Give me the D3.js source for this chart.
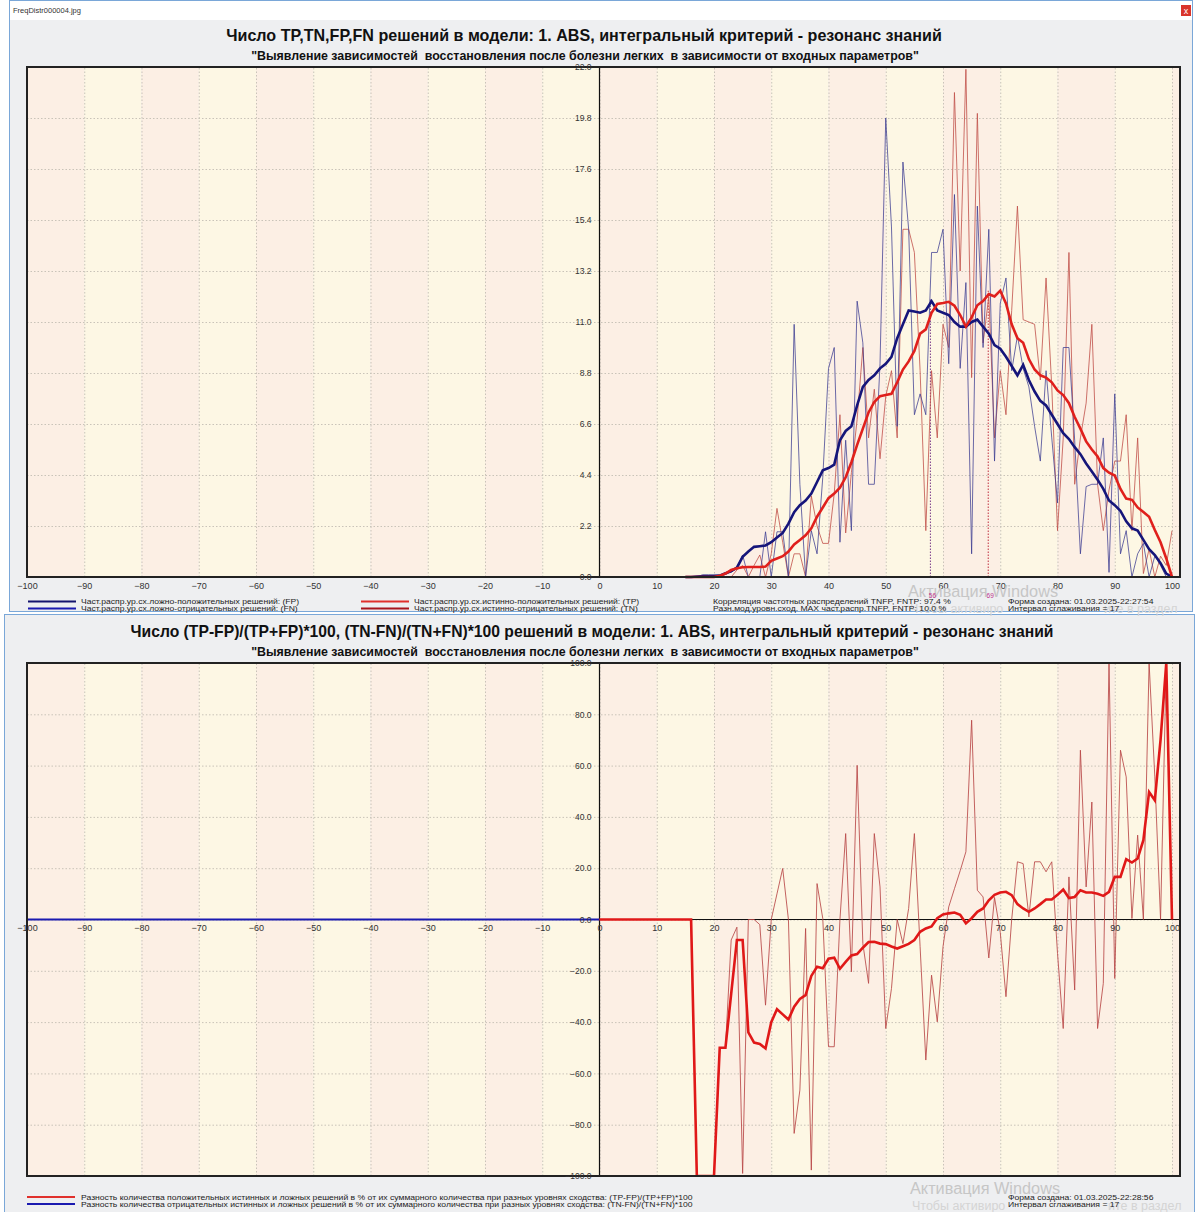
<!DOCTYPE html>
<html><head><meta charset="utf-8">
<script src="https://cdn.jsdelivr.net/npm/d3@7"></script>
<style>
body{margin:0;background:#fff;}
svg{display:block;font-family:"Liberation Sans",Arial,sans-serif;}
.pre{white-space:pre;}
</style></head><body>
<svg id="c" width="1198" height="1212"></svg>
<script>
// ---------- DATA ----------
const topX = d3.range(15, 101);           // similarity levels 15..100
const fpRaw = [0,0,0,0.1,0.1,0.1,0.1,0.2,0.2,0.4,
  0.95,0,0,0,1.95,0,1.95,1.95,0,10.9,
  4.0,0,2.0,1.0,4.3,9.0,9.9,1.5,5.9,2.0,
  11.9,10.1,4.0,4.0,9.2,19.8,15.1,6.5,17.9,15.0,
  7.0,7.9,7.0,14.0,14.0,15.0,9.2,16.5,9.0,12.7,
  1.0,16.0,9.9,15.0,5.0,11.8,12.9,8.9,10.4,9.0,
  8.2,6.5,5.0,8.9,6.0,3.2,9.9,9.9,5.9,1.0,
  3.9,4.0,4.0,6.0,0.2,7.9,1.0,2.0,0,1.0,
  1.45,0,0.9,0.5,0,0];
const tpRaw = [0,0,0,0,0,0,0,0,0,0.3,
  0.5,0,0.5,0.95,0,1.0,2.96,1.5,0,1.0,
  1.0,0,3.5,2.2,1.45,1.45,3.6,7.0,1.9,4.5,
  6.8,9.9,6.0,8.1,5.1,7.8,8.9,6.0,15.0,15.0,
  14.0,8.9,2.0,8.9,6.0,10.9,9.9,20.9,13.2,21.9,
  8.6,20.0,10.1,12.1,6.0,8.9,7.0,11.5,16.0,11.1,
  11.0,10.9,8.5,12.9,8.2,2.0,6.0,14.0,4.0,6.0,
  7.5,10.9,4.0,2.0,3.75,5.0,5.0,7.0,2.0,6.0,
  0.15,1.2,0,0.9,0.5,2.0];
const fpSmooth = [0,0,0.02,0.03,0.03,0.03,0.05,0.15,0.25,0.4,
  0.87,1.1,1.3,1.33,1.36,1.5,1.7,1.9,2.3,2.8,
  3.1,3.3,3.6,4.1,4.6,4.7,4.85,5.9,6.3,6.5,
  7.4,8.2,8.5,8.7,9.0,9.2,9.5,10.3,10.9,11.5,
  11.45,11.4,11.5,11.9,11.5,11.4,11.3,11.0,10.8,10.8,
  11.0,11.1,10.8,10.5,10.0,9.85,9.5,9.1,8.7,9.15,
  8.5,8.0,7.6,7.4,7.0,6.6,6.2,5.95,5.6,5.3,
  4.9,4.55,4.2,3.8,3.3,3.1,2.85,2.4,2.1,2.0,
  1.6,1.2,0.95,0.6,0.15,0];
const tpSmooth = [0,0,0,0,0,0,0.05,0.15,0.3,0.38,
  0.42,0.43,0.43,0.43,0.45,0.7,0.8,0.9,1.1,1.4,
  1.6,1.8,2.1,2.6,3.0,3.4,3.6,3.85,4.3,4.95,
  5.7,6.4,7.1,7.55,7.8,7.85,7.9,8.4,8.95,9.3,
  9.75,10.5,10.68,11.4,11.78,11.82,11.87,11.7,11.3,10.8,
  11.2,11.72,11.9,12.2,12.1,12.35,11.8,10.9,10.3,10.1,
  9.4,8.95,8.7,8.6,8.4,8.05,7.85,7.5,6.9,6.4,
  5.85,5.5,5.2,4.7,4.5,4.38,3.8,3.38,3.33,3.0,
  2.8,2.6,2.03,1.5,0.8,0];
const modeX = [57.8, 67.9];
const modeTop = [12.0, 12.35];
const modeLabels = ["56", "69"];
const topYTicks = [0, 2.2, 4.4, 6.6, 8.8, 11.0, 13.2, 15.4, 17.6, 19.8, 22.0];

const botX = d3.range(0, 101);
const diffPosRaw = [0,0,0,0,0,0,0,0,0,0,
  0,0,0,0,0,0,0,-100,-100,-100,
  -100,-50,-50,-8,-3,-99,0,0,-2,-33.4,
  0,10,19.9,0,-83.4,-66.5,-3.5,-97.7,14,0.4,
  -49.6,-49.6,0,33.5,-20.4,60.1,-9.4,-24.9,33.5,12.7,
  -42.5,-26.9,0,-9.4,4.3,33.5,-10.6,-54.8,-21.7,-39.9,
  -10.6,4.9,12,19,26.4,77.7,11.4,8.8,-15,8.6,
  -5,-30.1,0,22.5,21.8,1.0,22.5,22.5,18.6,22.5,
  -13.2,-42.5,16.6,-27.5,66,12.7,45.8,-42.5,-24.9,100,
  -23,66,55.6,0.4,32.9,0,100,55.6,0,100,
  100];
const diffPosSmooth = [0,0,0,0,0,0,0,0,0,0,
  0,0,0,0,0,0,0,-100,-100,-100,
  -100,-50,-50,-29,-8,-8,-44,-48,-48.5,-50.3,
  -40,-35,-37,-39,-34,-31,-29.5,-22,-18.4,-19,
  -15.3,-14.9,-19.2,-16.5,-14,-13.5,-11,-8.8,-8.7,-9.4,
  -9.6,-10.5,-11.3,-10.4,-9.5,-8,-4.8,-3.5,-2.7,0.5,
  2,2.4,2.7,1.8,-1.5,0.5,3,4.3,7.5,9.6,
  10.5,10.8,9.5,6,4.3,3.0,4.3,6,7.8,7.8,
  9.6,11.7,8.4,8.8,11.4,10.5,10.5,10,9.2,10.8,
  16.6,16.6,23.5,22.2,23.8,30.9,49.7,46.5,70,100,
  0];
const negX = [-100,-90,-80,-70,-60,-50,-40,-30,-20,-10,0];
const diffNeg = [0,0,0,0,0,0,0,0,0,0,0];
const botYTicks = [-100,-80,-60,-40,-20,0,20,40,60,80,100];
const xTicks = d3.range(-100, 101, 10);

const title1 = "Число TP,TN,FP,FN решений в модели: 1. ABS, интегральный критерий - резонанс знаний";
const title2 = "Число (TP-FP)/(TP+FP)*100, (TN-FN)/(TN+FN)*100 решений в модели: 1. ABS, интегральный критерий - резонанс знаний";
const subtitle = "\"Выявление зависимостей  восстановления после болезни легких  в зависимости от входных параметров\"";

// ---------- DRAW ----------
const svg = d3.select("#c");
const C = {pink:"#fcefe4", cream:"#fdf7e4", grid:"#c9c3b8", panel:"#eeeff1", frame:"#7aa7d8"};

// windows chrome
svg.append("rect").attr("x",0).attr("y",0).attr("width",1198).attr("height",1212).attr("fill","#fff");
svg.append("rect").attr("x",9.5).attr("y",0.5).attr("width",1183).attr("height",611).attr("fill",C.panel).attr("stroke",C.frame);
svg.append("rect").attr("x",10).attr("y",1).attr("width",1182).attr("height",19).attr("fill","#fff");
svg.append("text").attr("x",13).attr("y",13).attr("font-size",7.5).attr("fill","#333").text("FreqDistr000004.jpg");
svg.append("rect").attr("x",1181).attr("y",5).attr("width",10).attr("height",11).attr("fill","#d9342b");
svg.append("text").attr("x",1186).attr("y",14).attr("font-size",9).attr("fill","#fff").attr("text-anchor","middle").text("x");
svg.append("rect").attr("x",4.5).attr("y",614.5).attr("width",1190).attr("height",600).attr("fill",C.panel).attr("stroke",C.frame);

function panel(cfg){
  const x = d3.scaleLinear().domain([-100,100]).range([27,1172]);
  const y = d3.scaleLinear().domain(cfg.yDomain).range([cfg.y1, cfg.y0]);
  const g = svg.append("g");
  const bands = d3.range(-10, 11);
  g.selectAll(".band").data(bands).enter().append("rect")
    .attr("x", d => x(d*10)).attr("y", cfg.y0)
    .attr("width", d => Math.min(x(d*10+10), cfg.xR) - x(d*10))
    .attr("height", cfg.y1 - cfg.y0)
    .attr("fill", d => (d % 2 === 0) ? C.pink : C.cream);
  g.append("g").attr("transform",`translate(0,${cfg.y1})`)
    .call(d3.axisBottom(x).tickValues(xTicks).tickSize(-(cfg.y1-cfg.y0)).tickFormat(""))
    .call(a=>{a.select(".domain").remove(); a.selectAll("line").attr("stroke",C.grid).attr("stroke-dasharray","1.5,2");});
  g.append("g").attr("transform",`translate(27,0)`)
    .call(d3.axisLeft(y).tickValues(cfg.yTicks).tickSize(-(cfg.xR-27)).tickFormat(""))
    .call(a=>{a.select(".domain").remove(); a.selectAll("line").attr("stroke",C.grid).attr("stroke-dasharray","1.5,2");});
  g.append("line").attr("x1",x(0)).attr("x2",x(0)).attr("y1",cfg.y0).attr("y2",cfg.y1).attr("stroke","#111").attr("stroke-width",1.2);
  return {x,y,g};
}
// small legend text: measured at 8.6px, drawn at 7px with the same width (horizontally stretched, like the original)
function small(x, y, t){
  const s = svg.append("text").attr("x",x).attr("y",y).attr("font-size",8.6).attr("fill","#222").text(t);
  const w = s.node().getComputedTextLength();
  s.attr("font-size",7).attr("textLength",w).attr("lengthAdjust","spacingAndGlyphs");
  return s;
}

// ================= TOP PANEL =================
const T = panel({yDomain:[0,22], y0:67, y1:577, xR:1180, yTicks:topYTicks});
const lineT = (ys) => d3.line().x((d,i)=>T.x(topX[i])).y(d=>T.y(d))(ys);
modeX.forEach((m,i)=>{
  T.g.append("line").attr("x1",T.x(m)).attr("x2",T.x(m)).attr("y1",T.y(0)).attr("y2",T.y(modeTop[i]))
    .attr("stroke", i===0 ? "#7a3a8a" : "#c03040").attr("stroke-width",1).attr("stroke-dasharray","1.5,1.5");
});
T.g.append("path").attr("d",lineT(tpRaw)).attr("fill","none").attr("stroke","#c0504a").attr("stroke-opacity",0.8).attr("stroke-width",1);
T.g.append("path").attr("d",lineT(fpRaw)).attr("fill","none").attr("stroke","#3a3a90").attr("stroke-opacity",0.75).attr("stroke-width",1);
T.g.append("path").attr("d",lineT(fpSmooth)).attr("fill","none").attr("stroke","#15157a").attr("stroke-width",2.6);
T.g.append("path").attr("d",lineT(tpSmooth)).attr("fill","none").attr("stroke","#e0201c").attr("stroke-width",2.6);
svg.append("rect").attr("x",27).attr("y",67).attr("width",1153).attr("height",510).attr("fill","none").attr("stroke","#222").attr("stroke-width",2);
svg.append("g").attr("transform",`translate(0,578)`)
  .call(d3.axisBottom(T.x).tickValues(xTicks).tickSize(0).tickPadding(5).tickFormat(d3.format("d")))
  .call(a=>{a.select(".domain").remove(); a.selectAll("text").attr("font-size",9).attr("fill","#333").attr("font-family","Liberation Sans, Arial");});
svg.append("g").attr("transform",`translate(${T.x(0)},0)`)
  .call(d3.axisLeft(T.y).tickValues(topYTicks).tickSize(0).tickPadding(8).tickFormat(d3.format(".1f")))
  .call(a=>{a.select(".domain").remove(); a.selectAll("text").attr("font-size",8.5).attr("fill","#333").attr("font-family","Liberation Sans, Arial");});
svg.append("text").attr("x",584).attr("y",41).attr("text-anchor","middle").attr("font-size",16.1).attr("font-weight","bold").attr("fill","#111").text(title1);
svg.append("text").attr("class","pre").attr("x",585).attr("y",60).attr("text-anchor","middle").attr("font-size",12.4).attr("font-weight","bold").attr("fill","#111").text(subtitle);

// watermark top (fragments visible around the legend box)
svg.append("text").attr("x",908).attr("y",597).attr("font-size",16.3).attr("fill","#c6c6c6").text("Активация Windows");
svg.append("text").attr("x",910).attr("y",613).attr("font-size",12.5).attr("fill","#d4d4d4").text("Чтобы активиро");
svg.append("text").attr("x",1104).attr("y",613).attr("font-size",12.5).attr("fill","#d4d4d4").text("ите в раздел");
modeX.forEach((m,i)=>{
  svg.append("text").attr("x",T.x(m)+2).attr("y",597.5).attr("font-size",6.5).attr("fill","#c0308a").attr("text-anchor","middle").text(modeLabels[i]);
});

const lgT = [
  {x:27, y:601.5, c:"#14146e", t:"Част.распр.ур.сх.ложно-положительных решений: (FP)"},
  {x:27, y:608.5, c:"#1a1ab0", t:"Част.распр.ур.сх.ложно-отрицательных решений: (FN)"},
  {x:360, y:601.5, c:"#e0302c", t:"Част.распр.ур.сх.истинно-положительных решений: (TP)"},
  {x:360, y:608.5, c:"#a8141c", t:"Част.распр.ур.сх.истинно-отрицательных решений: (TN)"}
];
lgT.forEach(l=>{
  svg.append("line").attr("x1",l.x+1).attr("x2",l.x+49).attr("y1",l.y).attr("y2",l.y).attr("stroke",l.c).attr("stroke-width",2.2);
  small(l.x+54, l.y+2.6, l.t);
});
small(713, 604.1, "Корреляция частотных распределений TNFP, FNTP: 97.4 %");
small(713, 611.1, "Разн.мод.уровн.сход. MAX част.распр.TNFP, FNTP: 10.0 %");
small(1008, 604.1, "Форма создана: 01.03.2025-22:27:54");
small(1008, 611.1, "Интервал сглаживания = 17");

// ================= BOTTOM PANEL =================
const B = panel({yDomain:[-100,100], y0:663, y1:1176, xR:1180, yTicks:botYTicks});
const lineB = (xs, ys) => d3.line().x((d,i)=>B.x(xs[i])).y(d=>B.y(d))(ys);
B.g.append("line").attr("x1",27).attr("x2",1180).attr("y1",B.y(0)).attr("y2",B.y(0)).attr("stroke","#111").attr("stroke-width",1.2);
B.g.append("path").attr("d",lineB(negX, diffNeg)).attr("fill","none").attr("stroke","#1a1ab0").attr("stroke-width",2.2);
svg.append("clipPath").attr("id","clipB").append("rect").attr("x",27).attr("y",663).attr("width",1153).attr("height",513);
B.g.append("path").attr("d",lineB(botX, diffPosRaw)).attr("clip-path","url(#clipB)").attr("fill","none").attr("stroke","#b84848").attr("stroke-opacity",0.85).attr("stroke-width",1);
B.g.append("path").attr("d",lineB(botX, diffPosSmooth)).attr("clip-path","url(#clipB)").attr("fill","none").attr("stroke","#e01818").attr("stroke-width",2.6);
svg.append("rect").attr("x",27).attr("y",663).attr("width",1153).attr("height",513).attr("fill","none").attr("stroke","#222").attr("stroke-width",2);
svg.append("g").attr("transform",`translate(0,${B.y(0)+1})`)
  .call(d3.axisBottom(B.x).tickValues(xTicks).tickSize(0).tickPadding(4).tickFormat(d3.format("d")))
  .call(a=>{a.select(".domain").remove(); a.selectAll("text").attr("font-size",9).attr("fill","#333").attr("font-family","Liberation Sans, Arial");});
svg.append("g").attr("transform",`translate(${B.x(0)},0)`)
  .call(d3.axisLeft(B.y).tickValues(botYTicks).tickSize(0).tickPadding(8).tickFormat(d3.format(".1f")))
  .call(a=>{a.select(".domain").remove(); a.selectAll("text").attr("font-size",8.5).attr("fill","#333").attr("font-family","Liberation Sans, Arial");});
svg.append("text").attr("x",592).attr("y",637).attr("text-anchor","middle").attr("font-size",15.7).attr("font-weight","bold").attr("fill","#111").text(title2);
svg.append("text").attr("class","pre").attr("x",585).attr("y",656).attr("text-anchor","middle").attr("font-size",12.4).attr("font-weight","bold").attr("fill","#111").text(subtitle);

svg.append("text").attr("x",910).attr("y",1194).attr("font-size",16.3).attr("fill","#c6c6c6").text("Активация Windows");
svg.append("text").attr("x",912).attr("y",1210).attr("font-size",12.5).attr("fill","#d4d4d4").text("Чтобы активиро");
svg.append("text").attr("x",1108).attr("y",1210).attr("font-size",12.5).attr("fill","#d4d4d4").text("ите в раздел");
const lgB = [
  {y:1197, c:"#e0302c", t:"Разность количества положительных истинных и ложных решений в % от их суммарного количества при разных уровнях сходства: (TP-FP)/(TP+FP)*100"},
  {y:1204, c:"#1a1ab0", t:"Разность количества отрицательных истинных и ложных решений в % от их суммарного количества при разных уровнях сходства: (TN-FN)/(TN+FN)*100"}
];
lgB.forEach(l=>{
  svg.append("line").attr("x1",27).attr("x2",75).attr("y1",l.y).attr("y2",l.y).attr("stroke",l.c).attr("stroke-width",2.2);
  small(81, l.y+2.6, l.t);
});
small(1008, 1199.6, "Форма создана: 01.03.2025-22:28:56");
small(1008, 1206.6, "Интервал сглаживания = 17");
</script>
</body></html>
